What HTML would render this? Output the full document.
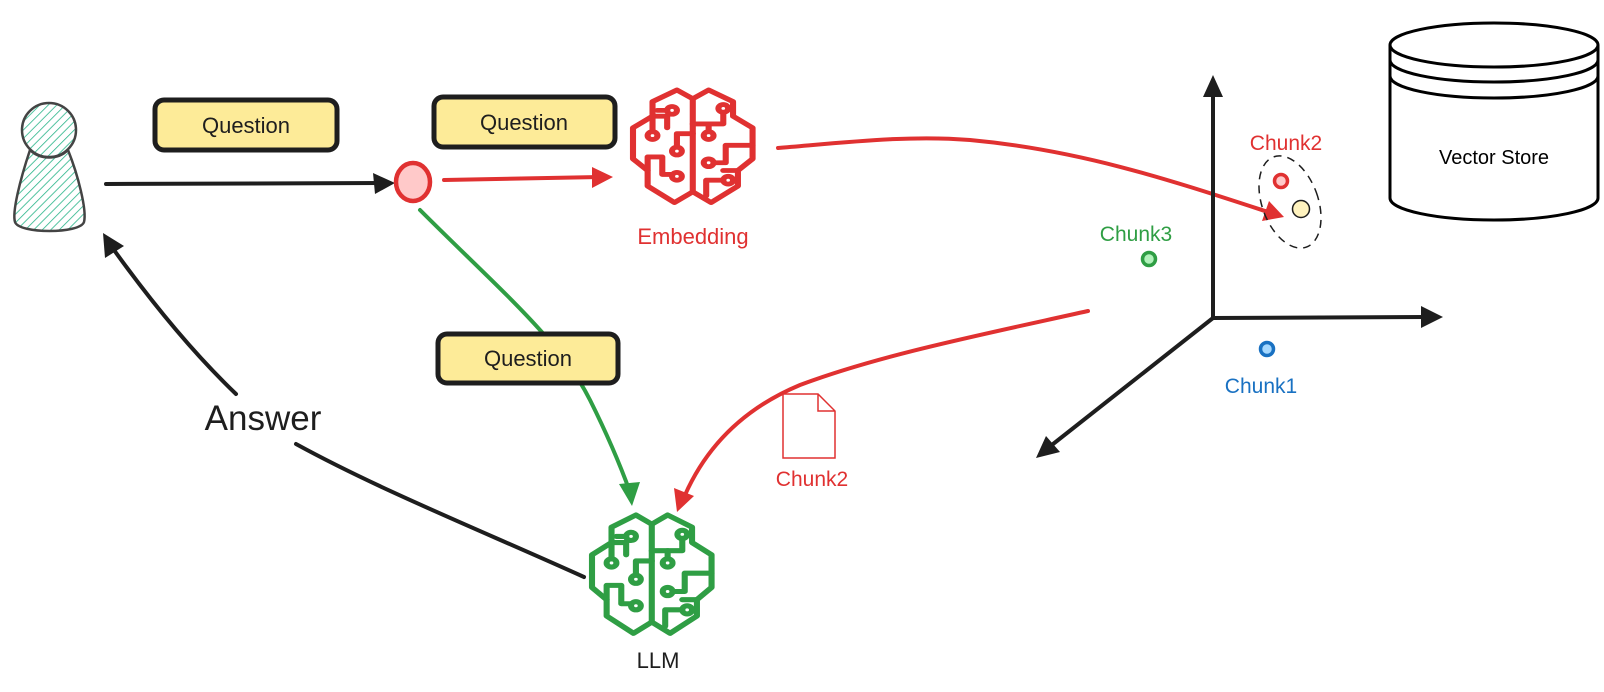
<!DOCTYPE html>
<html><head><meta charset="utf-8"><style>
html,body{margin:0;padding:0;background:#fff;}
svg{display:block;}
text{font-family:"Liberation Sans",sans-serif;}
</style></head><body>
<svg width="1604" height="692" viewBox="0 0 1604 692" xmlns="http://www.w3.org/2000/svg">
<defs>
<pattern id="hatch" width="6" height="6" patternUnits="userSpaceOnUse" patternTransform="rotate(45)">
<rect width="6" height="6" fill="#fff"/><line x1="0" y1="0" x2="0" y2="6" stroke="#2bb58a" stroke-width="1.6"/>
</pattern>
<g id="brain" fill="none" stroke-width="5" stroke-linejoin="round" stroke-linecap="round">
<path d="M59 10 L46 1 L26 13 L26 28 L10 40 L10 72 L22 84 L22 100 L44 117 L59 106 L74 117 L96 100 L96 84 L108 72 L108 40 L92 28 L92 13 L72 1 Z"/>
<path d="M59 10 V106"/>
<path d="M26 28 H38 V40"/><circle cx="42" cy="22" r="4"/><path d="M38 22 H30"/>
<circle cx="26" cy="48" r="4"/><path d="M26 44 V28"/>
<path d="M59 46 H46 V60"/><circle cx="46" cy="64" r="4"/>
<path d="M22 84 V70 H34 V88 H42"/><circle cx="46" cy="90" r="4"/>
<path d="M59 36 H72 V44"/><circle cx="72" cy="48" r="4"/><circle cx="84" cy="20" r="4"/><path d="M84 24 V36 H72"/>
<path d="M108 58 H86 V76 H76"/><circle cx="72" cy="76" r="4"/>
<path d="M96 84 H84"/><circle cx="88" cy="94" r="4"/><path d="M84 94 H70 V110"/>
</g>
</defs>

<!-- person -->
<path d="M30 150 C20 180 12 212 15 222 C19 234 80 234 84 222 C87 210 78 175 68 150 C58 160 40 160 30 150 Z" fill="url(#hatch)" stroke="#444" stroke-width="2.5"/>
<circle cx="49" cy="130" r="27" fill="url(#hatch)" stroke="#444" stroke-width="2.5"/>

<!-- Question box 1 -->
<rect x="155" y="100" width="182" height="50" rx="9" fill="#fdeb98" stroke="#1e1e1e" stroke-width="5"/>
<text x="246" y="133" font-size="22" text-anchor="middle" fill="#1e1e1e">Question</text>
<!-- Question box 2 -->
<rect x="434" y="97" width="181" height="50" rx="9" fill="#fdeb98" stroke="#1e1e1e" stroke-width="5"/>
<text x="524" y="130" font-size="22" text-anchor="middle" fill="#1e1e1e">Question</text>

<!-- arrow person -> circle -->
<line x1="106" y1="184" x2="382" y2="183" stroke="#1e1e1e" stroke-width="4" stroke-linecap="round"/>
<polygon points="395,183 373,173 375,194" fill="#1e1e1e"/>
<ellipse cx="413" cy="182" rx="17" ry="19" fill="#ffc9c9" stroke="#e03131" stroke-width="4.5"/>

<!-- red arrow circle -> embedding -->
<line x1="444" y1="180" x2="600" y2="177" stroke="#e03131" stroke-width="4" stroke-linecap="round"/>
<polygon points="613,177 592,167 592,188" fill="#e03131"/>

<!-- embedding brain -->
<g transform="translate(633,90) scale(1.22,0.97) translate(-10,-1)" stroke="#e03131"><use href="#brain"/></g>
<text x="693" y="244" font-size="22" text-anchor="middle" fill="#e03131">Embedding</text>

<!-- green arrow -->
<path d="M420 210 C500 290 560 340 590 400 C610 440 622 470 630 492" fill="none" stroke="#2f9e44" stroke-width="4" stroke-linecap="round"/>
<polygon points="632,506 619,484 640,482" fill="#2f9e44"/>
<!-- Question box 3 -->
<rect x="438" y="334" width="180" height="49" rx="9" fill="#fdeb98" stroke="#1e1e1e" stroke-width="5"/>
<text x="528" y="366" font-size="22" text-anchor="middle" fill="#1e1e1e">Question</text>

<!-- LLM brain -->
<g transform="translate(592,515) scale(1.22,1.02) translate(-10,-1)" stroke="#2f9e44"><use href="#brain"/></g>
<text x="658" y="668" font-size="22" text-anchor="middle" fill="#1e1e1e">LLM</text>

<!-- Answer arrow -->
<path d="M584 577 C480 530 380 490 296 444" fill="none" stroke="#1e1e1e" stroke-width="4" stroke-linecap="round"/>
<path d="M236 394 C190 350 150 300 114 250" fill="none" stroke="#1e1e1e" stroke-width="4" stroke-linecap="round"/>
<polygon points="103,233 105,258 124,246" fill="#1e1e1e"/>
<text x="263" y="430" font-size="35" text-anchor="middle" fill="#1e1e1e">Answer</text>

<!-- red curve embedding -> chunk2 -->
<path d="M778 148 C850 142 910 135 970 140 C1080 150 1170 180 1268 212" fill="none" stroke="#e03131" stroke-width="4" stroke-linecap="round"/>
<polygon points="1284,217 1262,221 1269,201" fill="#e03131"/>

<!-- red curve vector -> LLM -->
<path d="M1088 311 C980 335 880 355 800 385 C740 410 705 450 685 495" fill="none" stroke="#e03131" stroke-width="4" stroke-linecap="round"/>
<polygon points="677,512 674,488 694,496" fill="#e03131"/>

<!-- doc icon -->
<path d="M783 394 H818 L835 411 V458 H783 Z M818 394 V411 H835" fill="#fff" stroke="#e03131" stroke-width="1.5"/>
<text x="812" y="486" font-size="21" text-anchor="middle" fill="#e03131">Chunk2</text>

<!-- axes -->
<line x1="1213" y1="318" x2="1213" y2="92" stroke="#1e1e1e" stroke-width="4"/>
<polygon points="1213,75 1203,97 1223,97" fill="#1e1e1e"/>
<line x1="1213" y1="318" x2="1426" y2="317" stroke="#1e1e1e" stroke-width="4"/>
<polygon points="1443,317 1421,306 1421,328" fill="#1e1e1e"/>
<line x1="1213" y1="318" x2="1048" y2="448" stroke="#1e1e1e" stroke-width="4"/>
<polygon points="1036,458 1046,436 1060,452" fill="#1e1e1e"/>

<!-- chunk points -->
<text x="1286" y="150" font-size="21" text-anchor="middle" fill="#e03131">Chunk2</text>
<ellipse cx="1290" cy="202" rx="28" ry="48" transform="rotate(-20 1290 202)" fill="none" stroke="#1e1e1e" stroke-width="1.5" stroke-dasharray="8 6"/>
<circle cx="1281" cy="181" r="6.5" fill="#ffc9c9" stroke="#e03131" stroke-width="3.5"/>
<circle cx="1301" cy="209" r="8.5" fill="#fff3bf" stroke="#1e1e1e" stroke-width="1.5"/>
<text x="1136" y="241" font-size="21" text-anchor="middle" fill="#2f9e44">Chunk3</text>
<circle cx="1149" cy="259" r="6.5" fill="#b2f2bb" stroke="#2f9e44" stroke-width="3.5"/>
<circle cx="1267" cy="349" r="6.5" fill="#a5d8ff" stroke="#1971c2" stroke-width="3.5"/>
<text x="1261" y="393" font-size="21" text-anchor="middle" fill="#1971c2">Chunk1</text>

<!-- vector store cylinder -->
<path d="M1390 45 V198 A104 22 0 0 0 1598 198 V45" fill="#fff" stroke="#000" stroke-width="3"/>
<ellipse cx="1494" cy="45" rx="104" ry="22" fill="#fff" stroke="#000" stroke-width="3"/>
<path d="M1390 60 A104 22 0 0 0 1598 60" fill="none" stroke="#000" stroke-width="3"/>
<path d="M1390 76 A104 22 0 0 0 1598 76" fill="none" stroke="#000" stroke-width="3"/>
<text x="1494" y="164" font-size="20" text-anchor="middle" fill="#000">Vector Store</text>
</svg>
</body></html>
